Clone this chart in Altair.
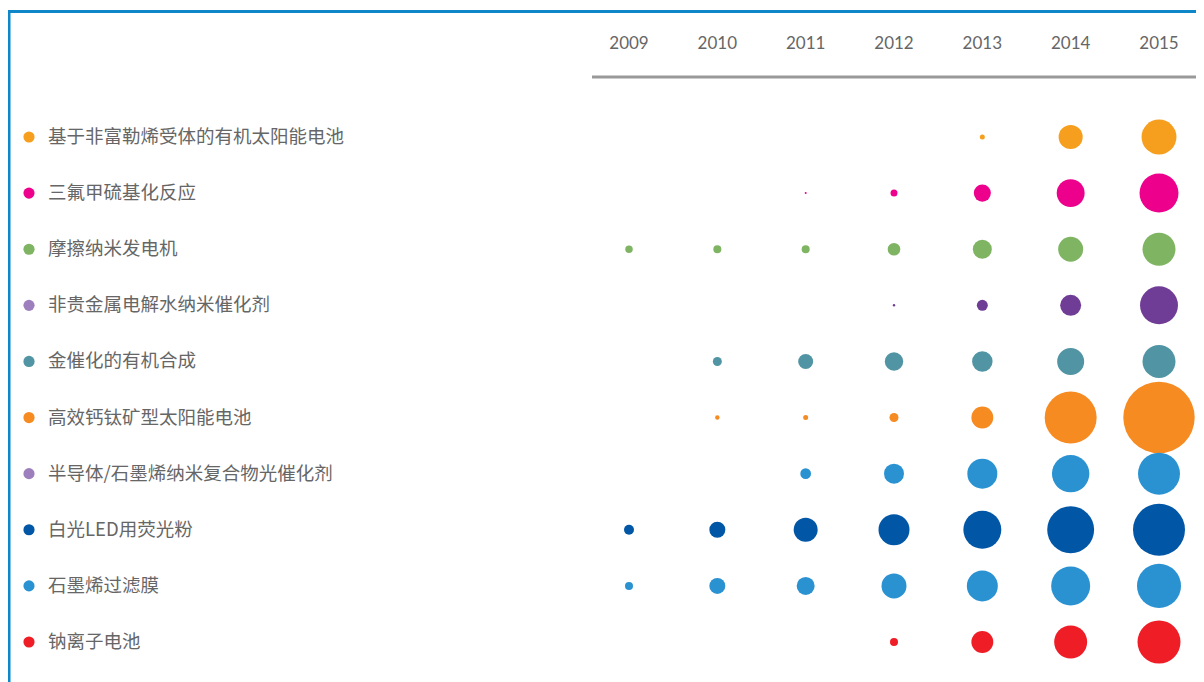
import altair as alt
import pandas as pd

# ---- data ----
topics = [
    "基于非富勒烯受体的有机太阳能电池",
    "三氟甲硫基化反应",
    "摩擦纳米发电机",
    "非贵金属电解水纳米催化剂",
    "金催化的有机合成",
    "高效钙钛矿型太阳能电池",
    "半导体/石墨烯纳米复合物光催化剂",
    "白光LED用荧光粉",
    "石墨烯过滤膜",
    "钠离子电池",
]
years = [2009, 2010, 2011, 2012, 2013, 2014, 2015]

# relative activity per year (None = no bubble)
v_fullerene_free = [None, None, None, None, 25, 580, 1220]
v_trifluoro      = [None, None, 4, 49, 290, 780, 1520]
v_triboelectric  = [56, 64, 64, 160, 360, 625, 1090]
v_nonnoble       = [None, None, None, 6, 121, 441, 1440]
v_gold           = [None, 81, 225, 340, 420, 730, 1090]
v_perovskite     = [None, 20, 25, 81, 480, 2700, 5100]
v_semigraphene   = [None, None, 115, 400, 900, 1400, 1760]
v_whiteled       = [100, 256, 576, 960, 1440, 2200, 2700]
v_graphenefilm   = [64, 256, 324, 625, 960, 1520, 1940]
v_sodium         = [None, None, None, 64, 480, 1090, 1850]

series = [v_fullerene_free, v_trifluoro, v_triboelectric, v_nonnoble, v_gold,
          v_perovskite, v_semigraphene, v_whiteled, v_graphenefilm, v_sodium]

# ---- styles ----
bubble_colors = ["#f69e1e", "#ec008c", "#7fb463", "#703d96", "#5195a4",
                 "#f68b22", "#2b92d2", "#0156a6", "#2b92d2", "#ee1d26"]
legend_colors = ["#f69e1e", "#ec008c", "#7fb463", "#9e7fbd", "#5195a4",
                 "#f68b22", "#9e7fbd", "#0156a6", "#2b92d2", "#ee1d26"]

W, H = 1188, 674
X_RANGE = [621, 1151]
Y_RANGE = [129, 634]

rows = []
for t, vals, c in zip(topics, series, bubble_colors):
    for y, v in zip(years, vals):
        if v is not None:
            rows.append({"topic": t, "year": y, "value": v, "color": c})
bubbles_df = pd.DataFrame(rows)
legend_df = pd.DataFrame({"topic": topics, "color": legend_colors})
years_df = pd.DataFrame({"year": years, "label": [str(y) for y in years]})
one = pd.DataFrame({"a": [0]})

xs = alt.Scale(domain=[years[0], years[-1]], range=X_RANGE)
ys = alt.Scale(type="point", domain=topics, range=Y_RANGE, padding=0)

bubbles = alt.Chart(bubbles_df).mark_circle(opacity=1, strokeWidth=0).encode(
    x=alt.X("year:Q", scale=xs, axis=None),
    y=alt.Y("topic:N", scale=ys, axis=None),
    size=alt.Size("value:Q", scale=alt.Scale(type="linear", domain=[0, 5100], range=[0, 5100], zero=True), legend=None),
    color=alt.Color("color:N", scale=None),
)

legend_dots = alt.Chart(legend_df).mark_circle(opacity=1, size=125).encode(
    x=alt.value(21),
    y=alt.Y("topic:N", scale=ys, axis=None),
    color=alt.Color("color:N", scale=None),
)

legend_text = alt.Chart(legend_df).mark_text(
    align="left", baseline="middle", font="Noto Sans CJK SC", fontSize=18.5, color="#666666"
).encode(
    x=alt.value(40),
    y=alt.Y("topic:N", scale=ys, axis=None),
    text="topic:N",
)

year_text = alt.Chart(years_df).mark_text(
    align="center", baseline="middle", font="Lato", fontSize=17, color="#666666"
).encode(
    x=alt.X("year:Q", scale=xs, axis=None),
    y=alt.value(36),
    text="label:N",
)

header_line = alt.Chart(one).mark_rule(color="#999999", strokeWidth=3).encode(
    x=alt.value(584), x2=alt.value(W), y=alt.value(69)
)
frame_left = alt.Chart(one).mark_rule(color="#0d87c8", strokeWidth=3).encode(
    x=alt.value(1), y=alt.value(3.5), y2=alt.value(H)
)
frame_top = alt.Chart(one).mark_rule(color="#0d87c8", strokeWidth=3).encode(
    x=alt.value(0), x2=alt.value(W), y=alt.value(3.5)
)

chart = alt.layer(
    frame_left, frame_top, header_line, year_text, legend_dots, legend_text, bubbles
).resolve_scale(color="independent", size="independent").properties(
    width=W, height=H, padding=0,
    autosize=alt.AutoSizeParams(type="none"),
    background="white",
).configure_view(stroke=None)

chart.save("out.html", embed_options={"renderer": "svg", "actions": False})
